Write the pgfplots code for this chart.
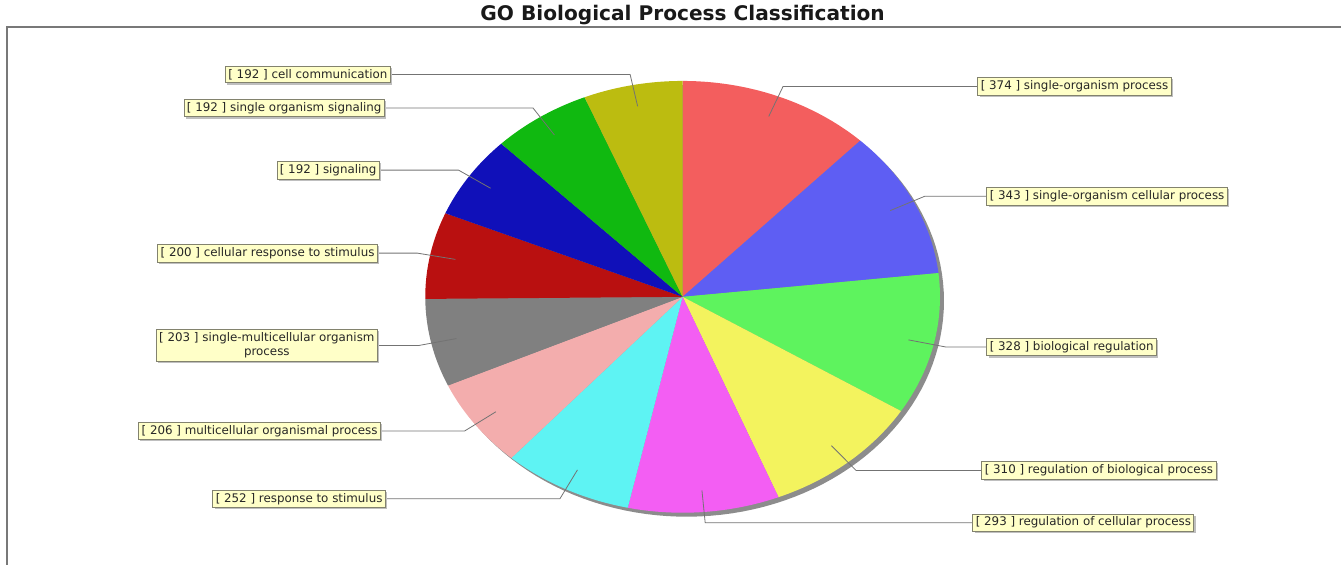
\documentclass[border=0pt]{standalone}
\usepackage{pgfplots}
\pgfplotsset{compat=1.18}
\usepackage{pgfplotstable}
\usepackage{fontspec}
\setmainfont{DejaVu Sans}
\usetikzlibrary{shadows}

\definecolor{c0}{RGB}{243,94,94}
\definecolor{c1}{RGB}{94,94,243}
\definecolor{c2}{RGB}{94,243,94}
\definecolor{c3}{RGB}{243,243,94}
\definecolor{c4}{RGB}{243,94,243}
\definecolor{c5}{RGB}{94,243,243}
\definecolor{c6}{RGB}{243,173,173}
\definecolor{c7}{RGB}{128,128,128}
\definecolor{c8}{RGB}{185,16,16}
\definecolor{c9}{RGB}{16,16,185}
\definecolor{c10}{RGB}{16,185,16}
\definecolor{c11}{RGB}{188,188,16}
\definecolor{boxfill}{RGB}{255,255,200}
\definecolor{boxdraw}{RGB}{130,130,110}
\definecolor{linkcol}{RGB}{115,115,115}
\definecolor{shadowgray}{RGB}{140,140,140}
\definecolor{framegray}{RGB}{120,120,120}

% value, x of the label box edge (left edge on the right side, right edge on the left side), label
\pgfplotstableread[col sep=comma]{
value,boxx,label
374,978,single-organism process
343,987,single-organism cellular process
328,987,biological regulation
310,982,regulation of biological process
293,973,regulation of cellular process
252,386,response to stimulus
206,381,multicellular organismal process
203,378,single-multicellular organism process
200,378,cellular response to stimulus
192,380,signaling
192,385,single organism signaling
192,391,cell communication
}\gotable

\def\cx{683}\def\cy{297}\def\rx{257.5}\def\ry{216}

\pgfplotstablegetrowsof{\gotable}
\pgfmathtruncatemacro\nrows{\pgfplotsretval-1}
\gdef\total{0}
\foreach \i in {0,...,\nrows}{%
  \pgfplotstablegetelem{\i}{value}\of\gotable
  \pgfmathsetmacro\tmp{\total+\pgfplotsretval}%
  \xdef\total{\tmp}%
}
\gdef\cum{0}
\foreach \i in {0,...,\nrows}{%
  \pgfplotstablegetelem{\i}{value}\of\gotable
  \let\myv\pgfplotsretval
  \expandafter\xdef\csname val\i\endcsname{\myv}%
  \pgfmathsetmacro\sang{90-360*(\cum/\total)}%
  \pgfmathsetmacro\newcum{\cum+\myv}%
  \pgfmathsetmacro\eang{90-360*(\newcum/\total)}%
  \xdef\cum{\newcum}%
  \pgfmathsetmacro\midang{(\sang+\eang)/2}%
  \expandafter\xdef\csname sa\i\endcsname{\sang}%
  \expandafter\xdef\csname ea\i\endcsname{\eang}%
  \pgfmathsetmacro\tmp{\cx+0.9*\rx*cos(\midang)}\expandafter\xdef\csname ax\i\endcsname{\tmp}%
  \pgfmathsetmacro\tmp{\cy-0.9*\ry*sin(\midang)}\expandafter\xdef\csname ay\i\endcsname{\tmp}%
  \pgfmathsetmacro\tmp{\cx+1.05*\rx*cos(\midang)}\expandafter\xdef\csname ex\i\endcsname{\tmp}%
  \pgfmathsetmacro\tmp{\cy-1.05*\ry*sin(\midang)}\expandafter\xdef\csname ey\i\endcsname{\tmp}%
  \pgfmathtruncatemacro\isright{cos(\midang)>0}%
  \ifnum\isright=1 \expandafter\xdef\csname anc\i\endcsname{west}%
  \else \expandafter\xdef\csname anc\i\endcsname{east}\fi
  \pgfplotstablegetelem{\i}{boxx}\of\gotable
  \expandafter\xdef\csname bx\i\endcsname{\pgfplotsretval}%
  \pgfplotstablegetelem{\i}{label}\of\gotable
  \expandafter\xdef\csname lbl\i\endcsname{\pgfplotsretval}%
}
\expandafter\def\csname lbl7\endcsname{single-multicellular organism\\process}

\tikzset{labelbox/.style={fill=boxfill, draw=boxdraw, line width=0.6pt, align=center,
  font=\fontsize{8.9}{10.5}\selectfont, inner xsep=2.2pt, inner ysep=2.3pt, text=black!85,
  drop shadow={shadow xshift=1.3pt, shadow yshift=-1.3pt, fill=black!25, opacity=1}}}

\begin{document}
\begin{tikzpicture}
\begin{axis}[
  width=1006.5pt, height=423.75pt, scale only axis,
  xmin=0, xmax=1342, ymin=0, ymax=565, y dir=reverse,
  hide axis, clip=false]
  \path (axis cs:0,0) rectangle (axis cs:1342,565);
  \draw[framegray, line width=1.1pt] (axis cs:7,565) -- (axis cs:7,27) -- (axis cs:1342,27);
  \node[font=\bfseries\fontsize{15.1}{18}\selectfont, text=black!90] at (axis cs:683,15) {GO Biological Process Classification};
  % shadow of the pie
  \addplot[draw=none, fill=shadowgray, domain=0:360, samples=150] ({\cx+4+\rx*cos(x)},{\cy+4-\ry*sin(x)}) -- cycle;
  % slices
  \pgfplotsinvokeforeach{0,...,11}{
    \edef\temp{\noexpand\addplot[draw=none, fill=c#1, domain=\csname ea#1\endcsname:\csname sa#1\endcsname, samples=60]}
    \temp ({\cx+\rx*cos(x)},{\cy-\ry*sin(x)}) -- (axis cs:\cx,\cy) -- cycle;
  }
  % label links
  \pgfplotsinvokeforeach{0,...,11}{
    \edef\temp{\noexpand\addplot[linkcol, line width=0.6pt, mark=none] coordinates {(\csname ax#1\endcsname,\csname ay#1\endcsname) (\csname ex#1\endcsname,\csname ey#1\endcsname) (\csname bx#1\endcsname,\csname ey#1\endcsname)};}
    \temp
  }
  % labels
  \pgfplotsinvokeforeach{0,...,11}{
    \edef\temp{\noexpand\node[labelbox, anchor=\csname anc#1\endcsname] at (axis cs:\csname bx#1\endcsname,\csname ey#1\endcsname)}
    \temp {[ \csname val#1\endcsname{} ] \csname lbl#1\endcsname};
  }
\end{axis}
\end{tikzpicture}
\end{document}
